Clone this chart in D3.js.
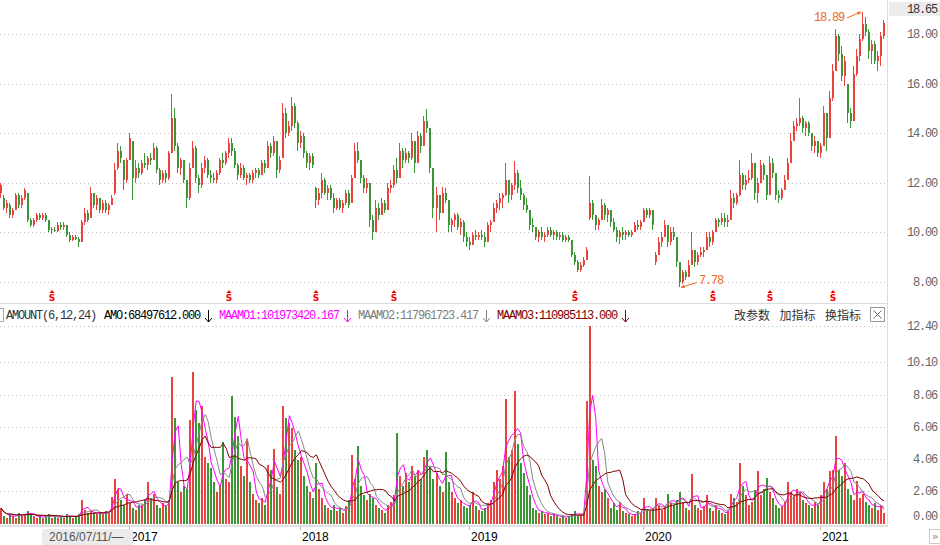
<!DOCTYPE html>
<html>
<head>
<meta charset="utf-8">
<title>AMOUNT</title>
<style>
  body { margin:0; background:#fff; }
  svg { display:block; }
  .mono { font-family:"Liberation Mono","DejaVu Sans Mono",monospace; font-size:12px; letter-spacing:-1.2px; }
  .grid { stroke:#c4c4c4; stroke-dasharray:1,3; }
  .cn { font-family:"Noto Sans CJK SC"; font-size:12px; fill:#333; }
  .year { font-family:Arial,"Liberation Sans",sans-serif; font-size:12px; fill:#000; }
</style>
<script src="https://cdn.jsdelivr.net/npm/d3@7"></script>
</head>
<body>
<script>
var width = 940, height = 545;

// one candle per ~4 trading days: [open, high, low, close]
var candles = [
  [11.6,12.0,11.4,11.9],[11.4,11.5,10.9,11.0],[11.0,11.3,10.8,11.2],[11.1,11.2,10.6,10.7],[10.7,11.0,10.6,10.9],[10.9,11.6,10.9,11.5],[11.5,11.6,11.0,11.1],[11.1,11.5,11.0,11.4],[11.4,11.8,11.3,11.7],[11.6,11.6,10.4,10.5],
  [10.5,10.6,10.2,10.3],[10.3,10.6,10.2,10.5],[10.5,10.8,10.4,10.7],[10.7,10.8,10.5,10.6],[10.6,10.8,10.5,10.7],[10.7,10.8,10.4,10.5],[10.5,10.5,10.0,10.1],[10.1,10.2,9.95,10.15],[10.1,10.2,10.0,10.05],[10.05,10.4,10.0,10.3],
  [10.3,10.4,10.1,10.2],[10.2,10.4,10.1,10.3],[10.3,10.3,9.8,9.9],[9.9,10.0,9.6,9.7],[9.7,9.9,9.65,9.8],[9.8,9.9,9.7,9.75],[9.75,9.8,9.43,9.6],[9.6,10.5,9.6,10.4],[10.4,11.0,10.3,10.8],[10.8,10.9,10.4,10.5],
  [10.6,11.85,10.6,11.6],[11.6,11.6,11.0,11.1],[11.1,11.5,10.9,11.4],[11.4,11.4,10.8,10.9],[10.9,11.3,10.8,11.2],[11.2,11.3,10.8,10.9],[10.9,11.2,10.7,11.1],[11.1,11.5,11.1,11.4],[11.6,12.8,11.5,12.5],[12.6,13.6,12.5,13.3],
  [13.3,13.5,12.8,13.0],[12.9,12.9,11.7,12.1],[12.1,13.0,12.0,12.9],[12.9,14.0,12.9,13.8],[13.7,13.7,11.3,12.2],[12.2,12.9,12.0,12.6],[12.6,12.8,12.2,12.4],[12.4,12.9,12.3,12.8],[12.8,13.2,12.6,12.7],[12.7,13.1,12.5,13.0],
  [13.0,13.2,12.7,12.9],[12.9,13.6,12.9,13.4],[13.4,13.5,12.4,12.5],[12.5,12.6,11.9,12.1],[12.1,12.5,12.0,12.4],[12.4,12.5,12.0,12.2],[12.2,13.3,12.1,13.2],[13.2,15.6,13.2,14.6],[14.6,15.0,13.3,13.5],[13.5,13.6,12.4,12.6],
  [12.6,13.0,12.3,12.9],[12.9,12.9,12.0,12.1],[12.1,12.1,11.0,11.4],[11.4,12.8,11.3,12.6],[12.6,13.7,12.6,13.4],[13.4,13.5,12.0,12.2],[12.2,12.3,11.6,11.9],[11.9,12.8,11.8,12.6],[12.6,13.1,12.4,12.9],[12.9,13.0,12.2,12.3],
  [12.3,12.5,12.0,12.2],[12.2,12.4,12.0,12.1],[12.1,12.5,12.0,12.4],[12.4,13.0,12.3,12.9],[12.9,13.2,12.6,12.8],[12.8,13.3,12.7,13.2],[13.2,13.8,13.0,13.6],[13.6,13.8,13.1,13.3],[13.3,13.4,12.6,12.7],[12.7,12.8,12.1,12.3],
  [12.3,12.8,12.2,12.6],[12.6,12.7,12.1,12.2],[12.2,12.4,11.9,12.3],[12.3,12.4,12.0,12.1],[12.1,12.5,12.0,12.4],[12.4,12.6,12.2,12.5],[12.5,12.6,12.2,12.3],[12.3,12.9,12.3,12.8],[12.8,12.9,12.4,12.6],[12.6,13.7,12.6,13.5],
  [13.5,13.6,13.0,13.2],[13.2,13.9,13.1,13.7],[13.7,13.7,12.2,12.5],[12.5,13.1,12.4,12.9],[13.0,15.2,13.0,14.8],[14.8,15.0,13.8,14.0],[14.0,14.5,13.9,14.3],[14.3,15.44,14.1,15.1],[15.1,15.2,14.2,14.4],[14.4,14.5,13.3,13.6],
  [13.6,14.1,13.4,13.9],[13.9,14.0,13.0,13.2],[13.2,13.3,12.6,12.8],[12.8,13.2,12.5,13.1],[13.1,13.2,12.6,12.7],[11.8,11.85,11.0,11.3],[11.3,11.8,11.1,11.6],[11.6,12.4,11.4,12.1],[12.1,12.2,11.5,11.6],[11.6,11.9,11.3,11.8],
  [11.8,11.9,11.3,11.4],[11.4,11.6,10.8,11.0],[11.0,11.4,10.9,11.3],[11.3,11.4,10.9,11.0],[11.0,11.3,10.8,11.2],[11.2,11.7,11.1,11.6],[11.6,11.7,11.0,11.1],[11.2,12.3,11.2,12.2],[12.2,13.6,12.2,13.3],[13.3,13.66,12.8,12.9],
  [12.9,12.9,12.0,12.2],[12.2,12.3,11.6,11.8],[11.8,12.2,11.6,12.0],[12.0,12.0,10.2,10.5],[10.5,10.7,9.7,10.0],[10.0,11.3,10.0,11.0],[11.0,11.2,10.5,10.7],[10.7,11.4,10.7,11.2],[11.2,11.3,10.8,10.9],[10.9,12.0,10.9,11.8],
  [11.8,12.1,11.6,11.9],[11.9,12.7,11.8,12.5],[12.5,13.0,12.0,12.2],[12.2,13.6,12.2,13.3],[13.3,13.4,12.6,12.9],[12.9,13.4,12.8,13.2],[13.2,13.3,12.8,13.0],[13.0,14.0,12.9,13.7],[13.7,13.7,12.4,12.8],[12.8,14.1,12.8,13.9],
  [13.9,14.0,13.2,13.5],[13.5,14.7,13.5,14.5],[14.5,14.97,14.0,14.2],[14.2,14.2,12.4,12.6],[12.6,12.6,10.6,11.0],[11.0,11.85,10.0,11.5],[11.5,11.5,10.5,10.8],[10.8,11.85,10.8,11.6],[11.6,11.8,11.2,11.3],[11.3,11.3,10.0,10.3],
  [10.3,10.6,10.0,10.5],[10.5,10.8,10.2,10.7],[10.7,10.8,10.1,10.2],[10.2,10.6,9.9,10.4],[10.4,10.5,9.6,9.8],[9.8,10.0,9.4,9.6],[9.6,9.8,9.3,9.5],[9.5,10.0,9.5,9.9],[9.9,10.1,9.7,9.8],[9.8,10.0,9.7,9.9],
  [9.9,10.1,9.7,9.8],[9.8,10.0,9.43,9.6],[9.6,10.4,9.6,10.3],[10.3,10.5,10.0,10.4],[10.4,11.2,10.4,11.0],[11.0,11.3,10.8,11.2],[11.2,11.6,10.9,11.4],[11.4,11.6,11.0,11.5],[11.5,12.8,11.45,12.1],[12.1,12.1,11.2,11.5],
  [11.5,12.0,11.3,11.9],[11.9,12.87,11.7,12.4],[12.4,12.5,11.6,11.8],[11.8,12.1,11.3,11.5],[11.5,11.6,10.9,11.1],[11.1,11.4,10.8,10.9],[10.9,10.9,10.1,10.3],[10.3,10.6,10.0,10.2],[10.2,10.2,9.7,9.8],[9.8,10.1,9.6,10.0],
  [10.0,10.2,9.7,9.8],[9.8,10.0,9.6,9.9],[9.9,10.2,9.8,10.1],[10.1,10.2,9.8,9.9],[9.9,10.1,9.7,10.0],[10.0,10.1,9.7,9.8],[9.8,10.0,9.7,9.9],[9.9,10.0,9.6,9.7],[9.7,9.9,9.6,9.8],[9.8,9.9,9.6,9.7],
  [9.7,9.7,9.0,9.1],[9.1,9.2,8.7,8.8],[8.8,8.9,8.4,8.5],[8.5,8.8,8.4,8.7],[8.7,9.0,8.6,8.9],[8.9,9.4,8.9,9.3],[10.6,12.28,10.5,11.2],[11.2,11.3,10.5,10.7],[10.7,10.7,10.1,10.3],[10.3,10.6,10.1,10.5],
  [10.5,11.34,10.5,11.1],[11.1,11.2,10.5,10.7],[10.7,11.0,10.4,10.9],[10.9,10.9,10.2,10.4],[10.4,10.6,10.0,10.1],[10.1,10.2,9.6,9.8],[9.8,10.1,9.55,10.0],[10.0,10.2,9.7,9.9],[9.9,10.1,9.7,10.0],[10.0,10.1,9.8,9.9],
  [9.9,10.1,9.8,10.0],[10.0,10.4,10.0,10.3],[10.3,10.5,10.1,10.2],[10.2,10.5,10.1,10.4],[10.4,11.0,10.4,10.9],[10.9,11.0,10.6,10.7],[10.7,11.0,10.6,10.9],[10.9,10.9,10.1,10.3],[8.8,9.2,8.7,9.1],[9.1,9.8,9.1,9.6],
  [9.6,10.0,9.4,9.8],[9.8,10.5,9.8,10.3],[10.3,10.3,9.4,9.6],[9.6,10.2,9.5,10.0],[10.0,10.2,9.7,9.8],[9.8,9.8,8.6,8.8],[8.8,8.8,7.78,8.0],[8.0,8.5,7.9,8.4],[8.4,8.5,8.1,8.2],[8.2,8.9,8.2,8.7],
  [8.7,10.0,8.7,9.3],[9.3,9.3,8.6,8.8],[8.8,9.2,8.7,9.1],[9.1,9.4,9.0,9.2],[9.2,9.4,9.0,9.3],[9.3,10.0,9.3,9.8],[9.8,10.0,9.4,9.6],[9.6,10.1,9.5,10.0],[10.0,10.6,10.0,10.5],[10.5,10.6,10.2,10.4],
  [10.4,10.8,10.3,10.6],[10.6,10.8,10.2,10.4],[10.4,10.7,10.2,10.5],[10.5,11.7,10.5,11.4],[11.4,11.6,11.0,11.2],[11.2,11.6,11.1,11.5],[11.5,12.9,11.45,12.3],[12.3,12.4,11.7,11.9],[11.9,12.3,11.7,12.1],[12.1,12.5,12.0,12.2],
  [12.2,13.2,12.1,12.8],[12.8,12.8,11.3,11.6],[11.6,12.2,11.2,12.0],[12.0,12.9,12.0,12.7],[12.7,12.8,12.1,12.3],[12.3,12.3,11.3,11.5],[11.5,13.1,11.5,12.8],[12.8,13.0,12.2,12.4],[12.4,12.4,11.3,11.5],[11.5,11.7,11.2,11.4],
  [11.4,11.8,11.3,11.7],[11.7,12.3,11.7,12.1],[12.1,13.0,12.1,12.8],[12.8,14.0,12.8,13.7],[13.7,14.5,13.7,14.3],[14.3,14.6,14.1,14.4],[14.4,15.4,14.3,14.6],[14.6,14.7,14.0,14.2],[14.2,14.5,13.9,14.4],[14.4,14.5,13.9,14.0],
  [14.0,14.0,13.3,13.5],[13.5,13.9,13.2,13.7],[13.7,13.7,13.05,13.2],[13.2,13.6,13.0,13.5],[13.5,15.1,13.5,14.8],[14.8,14.8,13.3,13.8],[13.8,15.7,13.8,15.4],[15.4,16.8,15.3,16.5],[16.5,18.2,16.5,17.9],[17.9,18.0,16.9,17.2],
  [17.2,17.5,16.1,16.3],[16.3,17.1,15.9,16.9],[16.0,16.0,14.4,14.8],[14.8,15.0,14.2,14.5],[14.5,16.7,14.5,16.4],[16.4,17.4,16.3,17.1],[17.1,18.0,16.9,17.8],[17.8,18.89,17.7,18.4],[18.4,18.7,17.9,18.1],[18.1,18.2,17.0,17.3],
  [17.3,17.75,16.8,17.6],[17.6,17.7,16.8,16.9],[16.9,17.3,16.5,17.1],[17.1,18.1,16.7,17.9],[17.9,18.55,17.8,18.45]
];

// turnover per candle, in 100 million yuan
var amount = [
  1.0,0.5,0.4,0.6,0.5,0.4,0.7,0.5,0.6,0.8,
  0.6,0.5,0.4,0.5,0.4,0.5,0.6,0.4,0.5,0.4,
  0.5,0.4,0.6,0.5,0.4,0.5,0.6,1.5,0.9,0.7,
  0.8,0.7,0.6,0.7,0.6,0.8,0.7,1.7,2.8,2.2,
  1.5,1.2,1.9,1.3,1.0,0.9,1.2,1.2,1.5,2.6,
  1.6,1.9,1.2,1.0,1.3,1.1,1.5,9.2,6.6,2.6,
  2.0,2.4,2.2,6.5,9.5,7.1,6.3,7.4,4.2,3.8,
  3.5,2.6,2.0,2.4,5.1,2.8,2.6,8.0,6.7,5.5,
  3.6,3.0,5.3,2.6,1.9,1.5,1.3,1.6,1.2,3.7,
  3.4,4.7,2.3,1.9,7.4,6.6,6.3,6.0,4.6,4.0,
  4.2,3.0,2.4,2.0,1.6,3.8,2.2,1.6,1.2,1.0,
  0.9,1.2,0.8,1.0,0.7,1.1,1.5,4.3,2.8,4.9,
  2.4,1.8,1.5,1.9,1.6,1.2,1.0,0.9,0.7,1.2,
  1.4,1.8,5.7,3.0,2.4,3.2,2.6,3.6,3.0,3.4,
  2.8,4.2,4.6,3.6,2.8,3.2,2.4,2.0,4.5,2.6,
  2.0,1.6,1.3,1.5,1.1,1.0,1.2,2.0,1.1,0.9,
  0.8,1.0,1.3,1.5,2.6,3.4,2.8,3.6,7.8,4.2,
  4.6,8.3,5.0,3.8,3.2,2.4,1.8,1.0,0.9,0.7,
  0.8,0.6,0.7,0.5,0.6,0.5,0.4,0.5,0.4,0.5,
  0.6,0.8,0.5,0.6,0.7,7.7,12.4,4.0,3.6,2.4,
  2.0,2.2,1.6,1.0,1.3,0.9,1.4,0.8,0.7,0.6,
  0.5,0.6,0.8,0.7,1.6,0.9,0.8,1.0,1.6,1.2,
  0.9,1.1,1.9,1.3,1.2,1.5,2.0,1.4,1.0,0.9,
  3.1,1.2,1.0,0.9,1.1,1.8,1.0,0.8,1.2,0.9,
  0.7,0.6,0.8,1.9,1.6,1.4,3.8,2.4,1.8,1.2,
  1.4,2.1,3.3,1.8,2.2,2.9,2.0,1.6,1.2,1.0,
  1.1,1.4,2.6,2.0,1.8,2.2,2.0,1.5,1.3,1.2,
  1.0,1.4,1.2,1.8,2.6,2.2,3.3,3.4,5.5,3.4,
  3.0,3.8,2.2,1.8,1.5,2.7,1.6,1.9,1.4,1.2,
  1.0,1.3,0.9,1.2,0.68
];

var priceTicks = [8, 10, 12, 14, 16, 18];
var amountTicks = [0, 2.06, 4.06, 6.06, 8.06, 10.10, 12.40];
var yearLabels = ['2017', '2018', '2019', '2020', '2021'];
var yearBars = [43, 100, 156, 214, 273];      // first candle of each year
var markerBars = [17, 76, 105, 131, 191, 237, 256, 277];  // "S" event marks
var lastPrice = '18.65';
var maWindows = [3, 6, 12];   // AMOUNT(6,12,24) periods, counted in candles
var maColors = ['#ff00ff', '#888888', '#800000'];
var legendLabels = ['AMO:68497612.000', 'MAAMO1:101973420.167', 'MAAMO2:117961723.417', 'MAAMO3:110985113.000'];
var legendColors = ['#000000', '#ff00ff', '#808080', '#800000'];
var toolLabels = ['改参数', '加指标', '换指标'];

var RED = '#e8433f', GREEN = '#3a9635', ORANGE = '#ec6a1e';

var svg = d3.select('body').append('svg')
  .attr('width', width).attr('height', height);

var x = d3.scaleBand()
  .domain(d3.range(candles.length))
  .range([0, 885])
  .paddingInner(0.34);

var yP = d3.scaleLinear().domain([8, 18]).range([282, 34]);
var yA = d3.scaleLinear().domain([0, 12.4]).range([524, 325.6]);

function col(d) {
  if (d[3] > d[0]) return RED;
  if (d[3] < d[0]) return GREEN;
  return '#333';
}
function bx(i) { return Math.round(x(i)); }

// ---- price panel ----
svg.append('g').selectAll('line')
  .data(priceTicks).enter().append('line')
  .attr('class', 'grid')
  .attr('x1', 0).attr('x2', 886)
  .attr('y1', function(d){ return Math.round(yP(d)) + 0.5; })
  .attr('y2', function(d){ return Math.round(yP(d)) + 0.5; });

var cg = svg.append('g').attr('shape-rendering', 'crispEdges');
cg.selectAll('rect.wick')
  .data(candles).enter().append('rect')
  .attr('class', 'wick')
  .attr('x', function(d, i){ return bx(i); })
  .attr('width', 1)
  .attr('y', function(d){ return yP(d[1]); })
  .attr('height', function(d){ return Math.max(1, yP(d[2]) - yP(d[1])); })
  .attr('fill', col);
cg.selectAll('rect.body')
  .data(candles).enter().append('rect')
  .attr('class', 'body')
  .attr('x', function(d, i){ return bx(i); })
  .attr('width', 2)
  .attr('y', function(d){ return yP(Math.max(d[0], d[3])); })
  .attr('height', function(d){ return Math.max(1, Math.abs(yP(d[0]) - yP(d[3]))); })
  .attr('fill', col);

// price axis labels
svg.append('g').selectAll('text')
  .data(priceTicks).enter().append('text')
  .attr('class', 'mono')
  .attr('x', 937).attr('y', function(d){ return yP(d) + 4; })
  .attr('text-anchor', 'end')
  .attr('fill', '#666')
  .text(function(d){ return d3.format('.2f')(d); });

// current price box
svg.append('rect').attr('x', 889).attr('y', 2).attr('width', 51).attr('height', 14).attr('fill', '#ececec');
svg.append('text').attr('class', 'mono').attr('x', 937).attr('y', 13)
  .attr('text-anchor', 'end').attr('fill', '#333').text(lastPrice);

// high / low annotations
var hiIdx = d3.maxIndex(candles, function(d){ return d[1]; });
var loIdx = d3.minIndex(candles, function(d){ return d[2]; });
var hx = bx(hiIdx), hy = yP(candles[hiIdx][1]);
var lx = bx(loIdx), ly = yP(candles[loIdx][2]);
function arrow(x1, y1, x2, y2) {
  var a = Math.atan2(y2 - y1, x2 - x1), s = 4;
  svg.append('line').attr('x1', x1).attr('y1', y1).attr('x2', x2).attr('y2', y2)
    .attr('stroke', ORANGE).attr('stroke-width', 1);
  svg.append('path')
    .attr('d', 'M' + x2 + ',' + y2 +
      'L' + (x2 - s * Math.cos(a - 0.5)) + ',' + (y2 - s * Math.sin(a - 0.5)) +
      'L' + (x2 - s * Math.cos(a + 0.5)) + ',' + (y2 - s * Math.sin(a + 0.5)) + 'Z')
    .attr('fill', ORANGE);
}
svg.append('text').attr('class', 'mono').attr('x', hx - 18).attr('y', hy + 9)
  .attr('text-anchor', 'end').attr('fill', ORANGE).text(d3.format('.2f')(candles[hiIdx][1]));
arrow(hx - 15, hy + 6, hx - 1, hy);
svg.append('text').attr('class', 'mono').attr('x', lx + 20).attr('y', ly - 3)
  .attr('fill', ORANGE).text(d3.format('.2f')(candles[loIdx][2]));
arrow(lx + 18, ly - 5, lx + 2, ly);

// S markers
var mg = svg.append('g').selectAll('g')
  .data(markerBars).enter().append('g')
  .attr('transform', function(d){ return 'translate(' + (bx(d) + 1) + ',0)'; });
mg.append('path').attr('d', 'M-2.5,293L0,290L2.5,293Z').attr('fill', '#f00');
mg.append('text').attr('x', 0).attr('y', 301).attr('text-anchor', 'middle')
  .attr('font-family', 'DejaVu Sans').attr('font-weight', 'bold').attr('font-size', 9)
  .attr('fill', '#f00').text('S');

// ---- separators ----
svg.append('line').attr('x1', 0).attr('x2', 887).attr('y1', 303.5).attr('y2', 303.5).attr('stroke', '#dcdcdc');
svg.append('line').attr('x1', 887.5).attr('x2', 887.5).attr('y1', 0).attr('y2', 527).attr('stroke', '#dcdcdc');
svg.append('line').attr('x1', 0).attr('x2', 887).attr('y1', 526).attr('y2', 526).attr('stroke', '#e2e2e2').attr('stroke-width', 2);

// ---- legend row ----
svg.append('rect').attr('x', -5.5).attr('y', 308.5).attr('width', 9).attr('height', 13)
  .attr('fill', 'none').attr('stroke', '#aaa');
svg.append('text').attr('class', 'mono').attr('x', 6).attr('y', 319).attr('fill', '#333').text('AMOUNT(6,12,24)');
var lx0 = 104;
legendLabels.forEach(function(t, k) {
  svg.append('text').attr('class', 'mono').attr('x', lx0).attr('y', 319)
    .attr('fill', legendColors[k]).text(t);
  var ax = Math.round(lx0 + t.length * 6 + 8) + 0.5;
  svg.append('path').attr('d', 'M' + ax + ',310V322M' + (ax - 3.5) + ',318L' + ax + ',322L' + (ax + 3.5) + ',318')
    .attr('stroke', legendColors[k]).attr('fill', 'none').attr('stroke-width', 1);
  lx0 = lx0 + t.length * 6 + 19;
});
svg.append('g').selectAll('text')
  .data(toolLabels).enter().append('text')
  .attr('class', 'cn')
  .attr('x', function(d, i){ return 734 + i * 45.5; })
  .attr('y', 320)
  .text(function(d){ return d; });
svg.append('rect').attr('x', 870.5).attr('y', 307.5).attr('width', 14).attr('height', 14)
  .attr('fill', '#fff').attr('stroke', '#999');
svg.append('path').attr('d', 'M873.5,310.5L881.5,318.5M881.5,310.5L873.5,318.5')
  .attr('stroke', '#666').attr('stroke-width', 1);

// ---- amount panel ----
svg.append('g').selectAll('line')
  .data(amountTicks.slice(1)).enter().append('line')
  .attr('class', 'grid')
  .attr('x1', 0).attr('x2', 886)
  .attr('y1', function(d){ return Math.round(yA(d)) + 0.5; })
  .attr('y2', function(d){ return Math.round(yA(d)) + 0.5; });

svg.append('g').attr('shape-rendering', 'crispEdges')
  .selectAll('rect').data(amount).enter().append('rect')
  .attr('x', function(d, i){ return bx(i); })
  .attr('width', 2)
  .attr('y', function(d){ return yA(d); })
  .attr('height', function(d){ return yA(0) - yA(d); })
  .attr('fill', function(d, i){ return col(candles[i]); });

// moving averages of amount
maWindows.forEach(function(w, k) {
  var ma = amount.map(function(v, i) {
    return d3.mean(amount.slice(Math.max(0, i - w + 1), i + 1));
  });
  svg.append('path')
    .datum(ma)
    .attr('fill', 'none')
    .attr('stroke', maColors[k])
    .attr('stroke-width', 1)
    .attr('d', d3.line()
      .x(function(d, i){ return x(i) + 1; })
      .y(function(d){ return yA(d); }));
});

svg.append('g').selectAll('text')
  .data(amountTicks).enter().append('text')
  .attr('class', 'mono')
  .attr('x', 937)
  .attr('y', function(d){ return Math.min(yA(d), 516) + 4; })
  .attr('text-anchor', 'end')
  .attr('fill', '#666')
  .text(function(d){ return d3.format('.2f')(d); });

// ---- time axis ----
svg.append('g').selectAll('line')
  .data(yearBars).enter().append('line')
  .attr('x1', function(d){ return bx(d) + 0.5; })
  .attr('x2', function(d){ return bx(d) + 0.5; })
  .attr('y1', 527).attr('y2', 530)
  .attr('stroke', '#bbb');
svg.append('g').selectAll('text')
  .data(yearBars).enter().append('text')
  .attr('class', 'year')
  .attr('x', function(d){ return bx(d) + 2; })
  .attr('y', 541)
  .text(function(d, i){ return yearLabels[i]; });

svg.append('rect').attr('x', 42).attr('y', 529).attr('width', 91).attr('height', 17).attr('rx', 3)
  .attr('fill', '#ebebeb');
svg.append('text').attr('x', 49).attr('y', 541)
  .attr('font-family', 'Arial, "Liberation Sans", sans-serif').attr('font-size', 12)
  .attr('fill', '#555').text('2016/07/11/—');

svg.append('rect').attr('x', 929.5).attr('y', 529.5).attr('width', 11).attr('height', 14)
  .attr('fill', '#fff').attr('stroke', '#ccc');
svg.append('text').attr('x', 935).attr('y', 540).attr('text-anchor', 'middle')
  .attr('font-family', 'DejaVu Sans').attr('font-size', 11).attr('fill', '#888').text('»');
</script>
</body>
</html>
